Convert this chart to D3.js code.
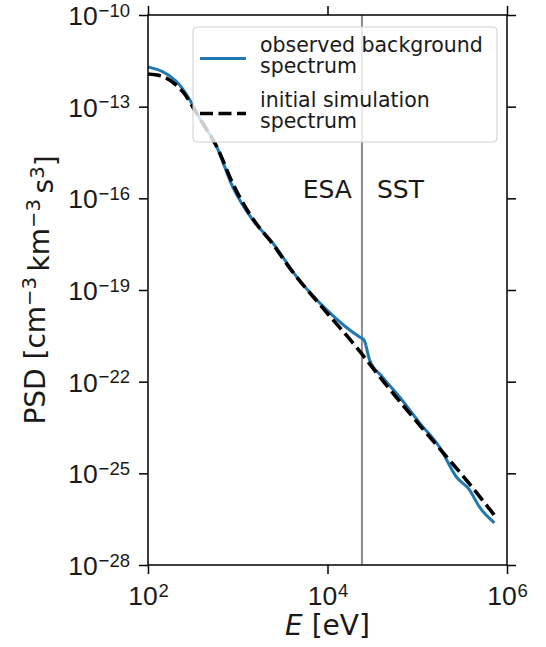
<!DOCTYPE html>
<html>
<head>
<meta charset="utf-8">
<script src="https://cdn.jsdelivr.net/npm/d3@7"></script>
<style>
  body { margin: 0; background: #fff; }
  svg { display: block; font-family: "DejaVu Sans", sans-serif; }
</style>
</head>
<body>
<svg id="chart" width="546" height="647"></svg>
<script>
// ---- data ----
const obsEnergy = [100, 205, 293, 378, 570, 881, 1472, 2455, 4540, 9795, 22800, 25500, 29440, 41100, 63500, 106200, 177000, 273500, 382000, 493000, 724000];
const obsPSD    = [2.0e-12, 6.9e-13, 1.66e-13, 4.0e-14, 5.6e-15, 2.34e-16, 1.95e-17, 3.47e-18, 2.69e-19, 2.24e-20, 2.88e-21, 2.34e-21, 5.13e-22, 1.41e-22, 3.16e-23, 4.47e-24, 7.24e-25, 7.59e-26, 2.88e-26, 7.94e-27, 2.40e-27];
const simEnergy = [100, 141, 200, 251, 316, 398, 586, 891, 1479, 2455, 3800, 8850, 22800, 35200, 88700, 212000, 353000, 762000];
const simPSD    = [1.17e-12, 1.0e-12, 5.5e-13, 2.8e-13, 9.8e-14, 3.2e-14, 4.8e-15, 2.8e-16, 2.1e-17, 3.2e-18, 5.2e-19, 2.6e-20, 1.0e-21, 1.95e-22, 7.1e-24, 3.5e-25, 6.0e-26, 3.5e-27];
const xTickValues = [1e2, 1e4, 1e6];
const yTickValues = [1e-10, 1e-13, 1e-16, 1e-19, 1e-22, 1e-25, 1e-28];
const boundaryEnergy = 2.42e4;
const regionLabels = ["ESA", "SST"];
const legendLabels = [["observed background", "spectrum"], ["initial simulation", "spectrum"]];

// ---- layout ----
const svg = d3.select("#chart");
const L = 148, R = 507, T = 15, B = 565;
const x = d3.scaleLog().domain([1e2, 1e6]).range([L, R]);
const y = d3.scaleLog().domain([1e-28, 1e-10]).range([B, T]);
const TFS = 26.5; // tick label size
const AFS = 28;   // axis label size
const RFS = 25;   // region label size
const LFS = 20.5; // legend size
const textColor = "#1a1a1a";

function supLabel(sel, base, exp) {
  sel.text(null);
  sel.append("tspan").text(base);
  sel.append("tspan").attr("dx", "0.05em").attr("dy", "-0.45em").attr("font-size", "0.7em").text(exp);
}
function expOf(d) {
  const e = Math.round(Math.log10(d));
  return (e < 0 ? "\u2212" : "") + Math.abs(e);
}

// vertical boundary line
svg.append("line")
  .attr("x1", x(boundaryEnergy)).attr("x2", x(boundaryEnergy))
  .attr("y1", T).attr("y2", B)
  .attr("stroke", "#8c8c8c").attr("stroke-width", 2);

// region labels
svg.append("text").attr("x", x(boundaryEnergy) - 10).attr("y", 198)
  .attr("text-anchor", "end").attr("font-size", RFS).attr("fill", textColor).text(regionLabels[0]);
svg.append("text").attr("x", x(boundaryEnergy) + 15).attr("y", 198)
  .attr("text-anchor", "start").attr("font-size", RFS).attr("fill", textColor).text(regionLabels[1]);

// curves
const line = d3.line().x(d => x(d[0])).y(d => y(d[1])).curve(d3.curveMonotoneX);
svg.append("path").datum(d3.zip(obsEnergy, obsPSD))
  .attr("d", line).attr("fill", "none").attr("stroke", "#1f77b4")
  .attr("stroke-width", 3).attr("stroke-linejoin", "round");
svg.append("path").datum(d3.zip(simEnergy, simPSD))
  .attr("d", line).attr("fill", "none").attr("stroke", "#000")
  .attr("stroke-width", 3.6).attr("stroke-dasharray", "13,5.5");

// axes
const tickLen = 9;
const xAxisB = svg.append("g").attr("transform", `translate(0,${B})`)
  .call(d3.axisBottom(x).tickValues(xTickValues).tickSize(tickLen).tickFormat(() => ""));
const xAxisT = svg.append("g").attr("transform", `translate(0,${T})`)
  .call(d3.axisTop(x).tickValues(xTickValues).tickSize(tickLen).tickFormat(() => ""));
const yAxisL = svg.append("g").attr("transform", `translate(${L},0)`)
  .call(d3.axisLeft(y).tickValues(yTickValues).tickSize(tickLen).tickFormat(() => ""));
const yAxisR = svg.append("g").attr("transform", `translate(${R},0)`)
  .call(d3.axisRight(y).tickValues(yTickValues).tickSize(tickLen).tickFormat(() => ""));

[xAxisB, xAxisT, yAxisL, yAxisR].forEach(g => {
  g.select(".domain").remove();
  g.selectAll(".tick text").remove();
  g.selectAll(".tick line").attr("stroke", "#000").attr("stroke-width", 1.5);
});

// x tick labels
xAxisB.selectAll(".tick").append("text")
  .attr("y", 40).attr("x", 0).attr("text-anchor", "middle")
  .attr("font-size", TFS).attr("fill", textColor)
  .each(function(d) { supLabel(d3.select(this), "10", expOf(d)); });
// y tick labels
yAxisL.selectAll(".tick").append("text")
  .attr("x", -tickLen - 9).attr("y", 0).attr("dy", "0.36em").attr("text-anchor", "end")
  .attr("font-size", TFS).attr("fill", textColor)
  .each(function(d) { supLabel(d3.select(this), "10", expOf(d)); });

// frame
svg.append("rect").attr("x", L).attr("y", T).attr("width", R - L).attr("height", B - T)
  .attr("fill", "none").attr("stroke", "#000").attr("stroke-width", 1.5);

// axis labels
const xl = svg.append("text").attr("x", (L + R) / 2).attr("y", 635)
  .attr("text-anchor", "middle").attr("font-size", AFS).attr("fill", textColor);
xl.append("tspan").attr("font-style", "italic").text("E");
xl.append("tspan").text(" [eV]");

const yl = svg.append("text")
  .attr("transform", `translate(45,${(T + B) / 2}) rotate(-90)`)
  .attr("text-anchor", "middle").attr("font-size", AFS).attr("fill", textColor);
yl.append("tspan").text("PSD [cm");
yl.append("tspan").attr("dy", "-0.45em").attr("font-size", "0.7em").text("\u22123");
yl.append("tspan").attr("dy", "0.45em").text("\u2009km");
yl.append("tspan").attr("dy", "-0.45em").attr("font-size", "0.7em").text("\u22123");
yl.append("tspan").attr("dy", "0.45em").text("\u2009s");
yl.append("tspan").attr("dy", "-0.45em").attr("font-size", "0.7em").text("3");
yl.append("tspan").attr("dy", "0.45em").text("]");

// legend
const lg = svg.append("g");
lg.append("rect").attr("x", 193).attr("y", 27).attr("width", 304).attr("height", 115)
  .attr("rx", 4).attr("fill", "#fff").attr("fill-opacity", 0.8)
  .attr("stroke", "#d0d0d0").attr("stroke-width", 1);
const entryBase = [51.5, 106.5];
const handleY = [58.5, 113.5];
const handleStyles = [
  { stroke: "#1f77b4", width: 3, dash: null },
  { stroke: "#000", width: 3.6, dash: "13,5.5" }
];
legendLabels.forEach((lines, i) => {
  const h = lg.append("line").attr("x1", 200).attr("x2", 246)
    .attr("y1", handleY[i]).attr("y2", handleY[i])
    .attr("stroke", handleStyles[i].stroke).attr("stroke-width", handleStyles[i].width);
  if (handleStyles[i].dash) h.attr("stroke-dasharray", handleStyles[i].dash);
  lines.forEach((t, j) => {
    lg.append("text").attr("x", 260).attr("y", entryBase[i] + j * 21.7)
      .attr("font-size", LFS).attr("fill", textColor).text(t);
  });
});
</script>
</body>
</html>
